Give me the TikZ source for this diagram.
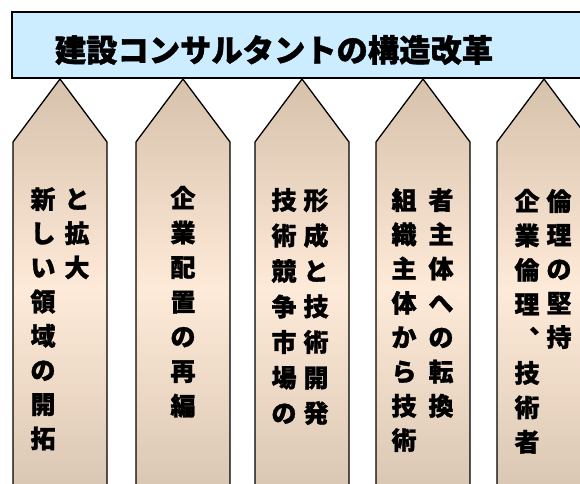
\documentclass[tikz,border=0pt]{standalone}
\usepackage{fontspec}
\newfontfamily\cjk{Noto Sans CJK JP}[BoldFeatures={FakeBold=1.2}]
\definecolor{titlefill}{RGB}{204,236,255}
\definecolor{tantop}{RGB}{214,193,171}
\definecolor{tanmid}{RGB}{254,234,216}
\definecolor{tanbot}{RGB}{216,197,177}
\tikzset{
  pillar/.style={top color=tantop, bottom color=tanbot, middle color=tanmid, draw=black, line width=1.3pt, line join=miter},
  titlebox/.style={fill=titlefill, draw=black, line width=1.8pt},
  ch/.style={font=\cjk\bfseries\fontsize{25}{25}\selectfont, inner sep=0pt, text height=22pt, text depth=3pt},
  titletext/.style={font=\cjk\bfseries\fontsize{31.3}{31.3}\selectfont, inner sep=0pt}
}
\newcommand\vcol[5]{\foreach \c [count=\i from 0] in {#5} {\node[ch] (#1-\i) at (#2, {#3+#4*\i}) {\c};}}
\newcommand\pillarpath[1]{(#1-47,500) -- (#1-47,142) -- (#1,79) -- (#1+47,142) -- (#1+47,500)}
\begin{document}
\begin{tikzpicture}[x=1pt,y=-1pt]
\useasboundingbox (0,0) rectangle (580,483);
\clip (0,0) rectangle (580,483);
\path[titlebox] (12,12) rectangle (600,78);
\node[titletext] (title) at (274,50) {建設コンサルタントの構造改革};
\foreach \cx/\nm in {60/p1,183/p2,302/p3,423/p4,544/p5}{
  \shade[pillar] \pillarpath{\cx};
}
\vcol{a1l}{43}{199}{34.2}{新,し,い,領,域,の,開,拓}
\vcol{a1r}{77}{199}{34.2}{と,拡,大}
\vcol{a2}{183}{198}{34.6}{企,業,配,置,の,再,編}
\vcol{a3l}{284}{200}{35.5}{技,術,競,争,市,場,の}
\vcol{a3r}{316}{200}{35.5}{形,成,と,技,術,開,発}
\vcol{a4l}{404}{200}{34.3}{組,織,主,体,か,ら,技,術}
\vcol{a4r}{441}{200}{34.3}{者,主,体,へ,の,転,換}
\vcol{a5l}{527}{201}{34.4}{企,業,倫,理,︑,技,術,者}
\vcol{a5r}{559}{201}{34.0}{倫,理,の,堅,持}
\end{tikzpicture}
\end{document}
